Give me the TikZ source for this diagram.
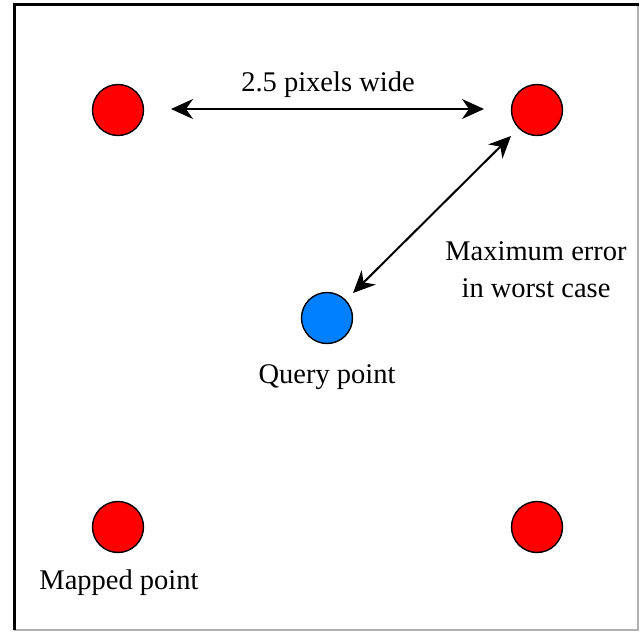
\documentclass[tikz,border=0pt]{standalone}
\usepackage{fontspec}
\setmainfont{Liberation Serif}
\newfontfamily\timesfont{Liberation Serif}
\usetikzlibrary{arrows.meta}
\definecolor{qblue}{RGB}{0,128,255}
\definecolor{mred}{RGB}{255,0,0}
\tikzset{
  dot/.style={circle, draw=black, line width=1.4pt, minimum size=51pt, inner sep=0pt},
  mapped/.style={dot, fill=mred},
  query/.style={dot, fill=qblue},
  lbl/.style={font=\timesfont\fontsize{28.5}{37}\selectfont, inner sep=0pt, align=center},
  dbl/.style={line width=2pt, {Stealth[length=22pt,width=20pt,inset=7pt]}-{Stealth[length=22pt,width=20pt,inset=7pt]}}
}
\begin{document}
\begin{tikzpicture}[x=1pt,y=-1pt]
\useasboundingbox (0,0) rectangle (641,632);
\fill[white] (0,0) rectangle (641,632);
% frame
\draw[gray!60, line width=1.5pt] (638,4) -- (638,630) -- (14,630);
\draw[black, line width=3pt] (14,630) -- (14,4) -- (639,4);
% points
\node[mapped] (tl) at (118,110) {};
\node[mapped] (tr) at (537,110) {};
\node[mapped] (bl) at (118,527) {};
\node[mapped] (br) at (537,527) {};
\node[query] (q) at (327,318) {};
% arrow anchors
\coordinate (hl) at (171,109);
\coordinate (hr) at (484,109);
\coordinate (d1) at (511,136);
\coordinate (d2) at (353,293);
\draw[dbl] (hl) -- (hr);
\draw[dbl] (d2) -- (d1);
% labels
\node[lbl] (wlab) at (328,85) {2.5 pixels wide};
\node[lbl] (elab) at (536,270) {Maximum error\\in worst case};
\node[lbl] (qlab) at (327,377) {Query point};
\node[lbl] (mlab) at (119,583) {Mapped point};
\end{tikzpicture}
\end{document}
